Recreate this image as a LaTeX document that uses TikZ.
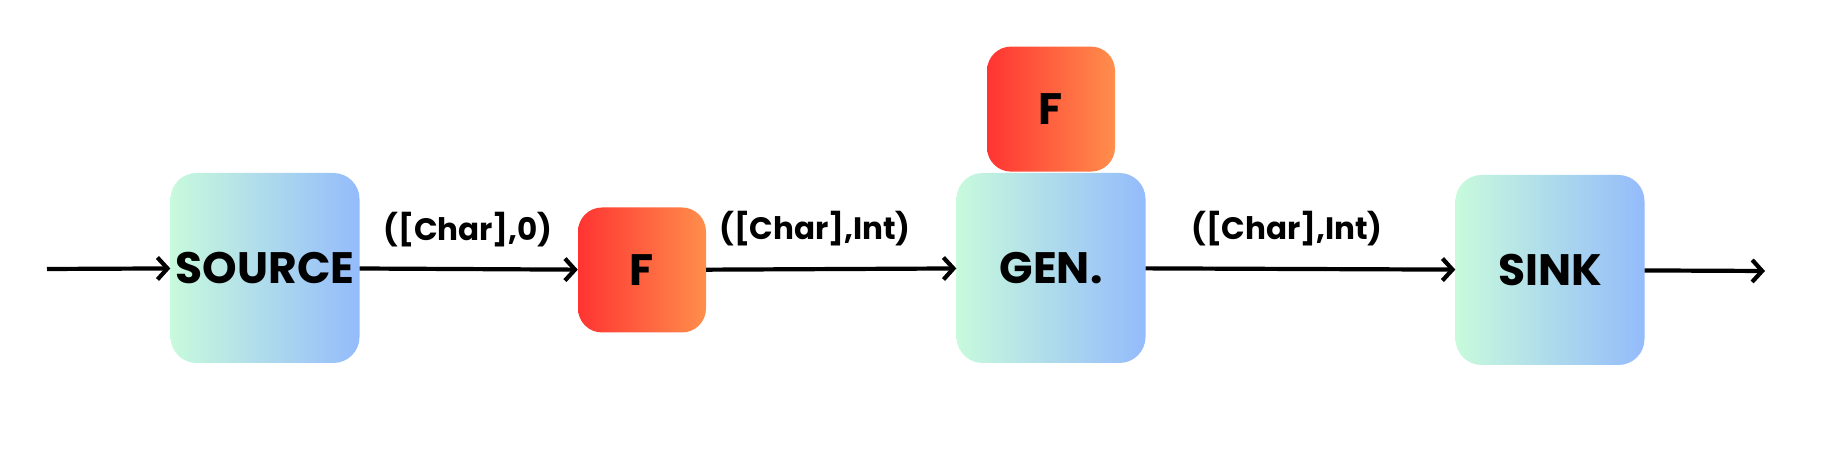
\documentclass[tikz,border=0pt]{standalone}
\usepackage{fontspec}
\setmainfont{Poppins}
\usetikzlibrary{
    arrows.meta,
    positioning
}
\definecolor{tikzmint}{RGB}{200,250,220}
\definecolor{tikzsky}{RGB}{148,187,251}
\definecolor{tikzred}{RGB}{255,52,50}
\definecolor{tikzorange}{RGB}{255,142,76}
\tikzset{
    % Box styles
    stage box/.style={
        rectangle,
        rounded corners=26pt,
        left color=tikzmint,
        right color=tikzsky,
        minimum width=189pt,
        minimum height=190pt,
        inner sep=0pt,
        font=\fontsize{44}{50}\selectfont\bfseries
    },
    func box/.style={
        rectangle,
        rounded corners=24pt,
        left color=tikzred,
        right color=tikzorange,
        minimum width=128pt,
        minimum height=125pt,
        inner sep=0pt,
        font=\fontsize{44}{50}\selectfont\bfseries
    },
    % Arrow styles
    flow arrow/.style={
        -{Straight Barb[length=10pt,width=22pt]},
        line width=4.2pt,
        black
    },
    % Label styles
    type label/.style={
        font=\fontsize{31}{36}\selectfont\bfseries
    }
}

\begin{document}
\begin{tikzpicture}[x=1pt,y=1pt]
        \useasboundingbox (0,0) rectangle (1832,454);

        % Define nodes
        \node[stage box] (source) at (265,186) {SOURCE};
        \node[func box] (func1) at (642,184) {F};
        \node[stage box] (gen) at (1051,186) {GEN.};
        \node[func box, above=1pt of gen] (func2) {F};
        \node[stage box] (sink) at (1550,184) {SINK};

        \coordinate (in) at (47,185);
        \coordinate (out) at (1765,183);

        % Draw edges
        \draw[flow arrow] (in) -- (source);
        \draw[flow arrow] (source) -- (func1);
        \draw[flow arrow] (func1) -- (gen);
        \draw[flow arrow] (gen) -- (sink);
        \draw[flow arrow] (sink) -- (out);

        % Type annotations
        \node[type label] at (468,224) {([Char],0)};
        \node[type label] at (815,225) {([Char],Int)};
        \node[type label] at (1287,225) {([Char],Int)};
    \end{tikzpicture}
\end{document}
